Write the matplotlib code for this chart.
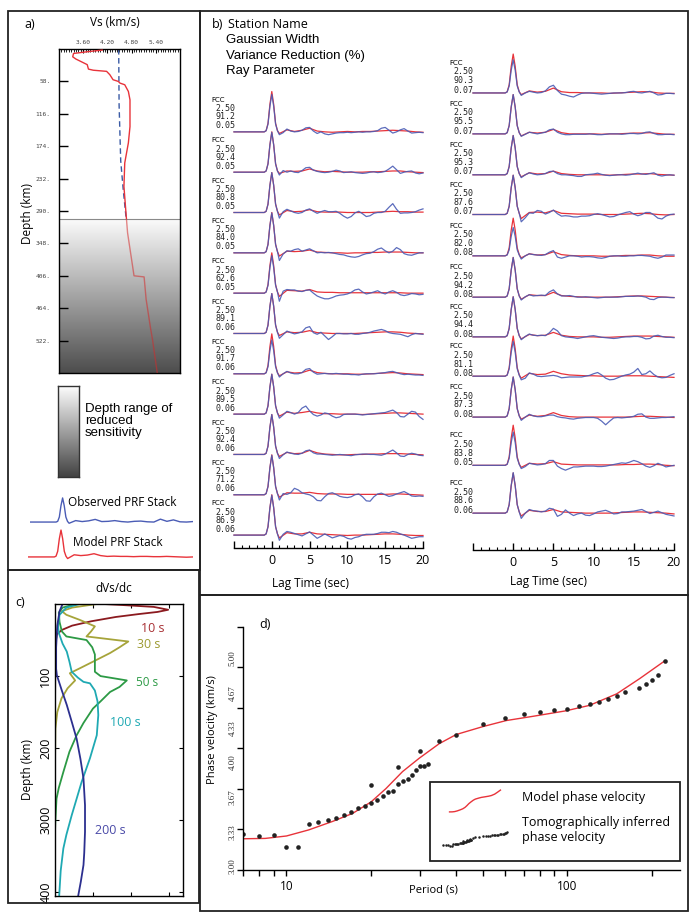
import numpy as np
import matplotlib.pyplot as plt
from matplotlib.patches import Rectangle
from matplotlib.colors import LinearSegmentedColormap
from matplotlib.ticker import MultipleLocator, NullFormatter, LogLocator, FixedLocator

plt.rcParams['font.family'] = ['Open Sans', 'DejaVu Sans']

# ---------------- panel a: Vs profile ----------------
depth_model = [2, 5, 8, 14, 18, 28, 36, 38, 40, 46, 55, 58, 61, 64, 76, 91, 139, 168, 204,
               246, 293, 329, 377, 406, 408, 448, 500, 521, 582]
vs_model = [4.07, 3.69, 3.36, 3.34, 3.42, 3.70, 3.73, 3.85, 4.18, 4.26, 4.34, 4.47, 4.51, 4.63,
            4.72, 4.76, 4.76, 4.72, 4.63, 4.61, 4.66, 4.70, 4.80, 4.86, 5.11, 5.16, 5.27, 5.32, 5.44]
depth_ref = [0, 100, 200, 250, 300]
vs_ref = [4.48, 4.49, 4.53, 4.59, 4.66]
sens_depth = 305
depth_ticks = [58, 116, 174, 232, 290, 348, 406, 464, 522]
vs_ticks = [3.6, 4.2, 4.8, 5.4]

# stacked PRFs for the legend (tail sampled at 1 s, lags 1..20)
obs_stack_tail = [-0.05, 0.06, 0.02, 0.05, 0.11, 0.02, 0.03, 0.06, 0.02, 0.00,
                  0.03, 0.04, 0.01, 0.00, 0.12, 0.03, 0.09, 0.01, 0.00, 0.02]
mod_stack_tail = [-0.06, 0.08, 0.05, 0.07, 0.12, 0.05, 0.02, 0.03, 0.02, 0.02,
                  0.01, 0.02, 0.02, 0.01, 0.01, 0.02, 0.01, 0.00, -0.01, 0.00]

# ---------------- panel b: receiver functions ----------------
pulse_lag = [-5.0, -1.0, -0.75, -0.5, -0.25, 0.0, 0.25, 0.5, 0.75]
pulse_shape = [0.0, 0.0, 0.03, 0.21, 0.68, 1.0, 0.68, 0.21, 0.03]
obs_lag = np.arange(1.0, 20.01, 0.5)
mod_lag = np.arange(1.0, 20.01, 1.0)

station = 'FCC'
gauss = '2.50'
vr_left = ['91.2', '92.4', '80.8', '84.0', '62.6', '89.1', '91.7', '89.5', '92.4', '71.2', '86.9']
rp_left = ['0.05'] * 5 + ['0.06'] * 6
vr_right = ['90.3', '95.5', '95.3', '87.6', '82.0', '94.2', '94.4', '81.1', '87.3', '83.8', '88.6']
rp_right = ['0.07'] * 4 + ['0.08'] * 5 + ['0.05', '0.06']

obs_peak_left = [0.93, 0.99, 0.99, 0.99, 0.93, 0.99, 0.84, 0.99, 0.99, 0.98, 0.99]
mod_peak_left = [1.00, 1.00, 0.99, 1.00, 1.00, 0.99, 0.99, 0.99, 0.99, 0.99, 1.00]
obs_peak_right = [0.82, 0.97, 0.97, 0.97, 0.70, 0.98, 0.99, 0.86, 0.99, 0.82, 1.00]
mod_peak_right = [0.96, 0.97, 0.97, 0.97, 0.93, 0.98, 0.99, 0.99, 0.99, 0.99, 0.99]

obs_tail_left = [
    [-0.07, -0.02, 0.07, 0.02, 0.00, 0.01, 0.04, 0.10, 0.11, 0.02, -0.04, 0.00, -0.05, -0.07, -0.05, -0.03, -0.02, -0.02, -0.01, -0.02,
     -0.01, 0.00, -0.01, 0.00, 0.00, 0.01, 0.03, 0.09, 0.11, 0.04, -0.03, 0.00, 0.05, 0.08, 0.02, -0.03, -0.02, -0.01, -0.02],
    [-0.07, 0.04, 0.00, 0.03, 0.00, -0.01, 0.04, 0.11, 0.12, 0.05, 0.02, 0.00, -0.01, 0.00, 0.02, 0.05, 0.03, -0.01, 0.00, 0.01,
     -0.01, -0.02, -0.03, -0.02, 0.00, 0.01, -0.01, 0.00, 0.02, 0.08, 0.15, 0.06, -0.03, 0.00, 0.02, 0.03, -0.02, -0.04, -0.02],
    [-0.14, 0.02, 0.08, 0.04, 0.00, -0.02, 0.00, 0.06, 0.09, 0.03, -0.02, 0.02, 0.05, 0.02, 0.02, 0.03, -0.02, -0.09, -0.14, -0.10,
     -0.01, 0.03, -0.03, -0.10, -0.08, -0.02, 0.00, 0.00, 0.03, 0.13, 0.22, 0.08, -0.02, -0.01, -0.01, 0.00, 0.02, 0.06, 0.09],
    [-0.19, -0.03, 0.05, 0.04, 0.08, 0.10, 0.04, 0.07, 0.10, 0.05, 0.00, 0.01, 0.00, 0.01, 0.00, -0.02, -0.04, -0.05, -0.08, -0.10,
     -0.11, -0.09, -0.05, -0.02, -0.01, 0.03, 0.09, 0.12, 0.05, 0.00, 0.04, 0.13, 0.08, -0.02, -0.05, -0.06, -0.03, 0.00, 0.00],
    [-0.20, 0.05, 0.09, 0.08, 0.08, 0.05, 0.04, 0.07, 0.08, 0.00, -0.07, -0.11, -0.14, -0.14, -0.11, -0.07, -0.05, -0.04, -0.02, 0.02,
     0.08, 0.10, 0.03, -0.02, 0.00, 0.03, 0.06, 0.01, -0.02, 0.03, 0.06, 0.02, -0.04, -0.06, -0.04, -0.01, -0.02, -0.04, -0.03],
    [-0.12, -0.03, 0.06, 0.02, -0.01, 0.01, 0.04, 0.14, 0.17, 0.02, -0.02, 0.03, -0.06, -0.15, -0.08, 0.00, 0.00, -0.01, -0.01, 0.00,
     -0.02, -0.02, 0.00, 0.01, 0.03, 0.06, 0.08, 0.10, 0.07, 0.02, 0.00, -0.01, -0.02, -0.05, -0.08, -0.03, 0.00, -0.01, -0.02],
    [-0.08, 0.00, 0.06, 0.02, 0.00, 0.00, 0.03, 0.11, 0.13, 0.04, -0.01, 0.00, 0.01, 0.00, 0.00, 0.01, 0.00, -0.01, -0.01, -0.02,
     -0.02, -0.03, -0.01, 0.00, 0.00, 0.00, 0.01, 0.02, 0.03, 0.05, 0.06, 0.03, 0.00, -0.02, -0.01, -0.02, -0.03, -0.03, -0.04],
    [-0.10, -0.02, 0.07, 0.04, 0.00, 0.04, 0.15, 0.20, 0.08, -0.01, -0.05, -0.02, 0.03, 0.01, -0.05, -0.09, -0.07, -0.01, 0.00, 0.00,
     0.00, -0.01, -0.02, -0.01, 0.00, 0.01, 0.02, 0.03, 0.04, 0.07, 0.10, 0.04, -0.06, -0.07, 0.00, 0.07, 0.05, -0.06, -0.13],
    [-0.10, -0.01, 0.06, 0.03, 0.01, 0.00, 0.03, 0.09, 0.11, 0.04, 0.01, 0.01, 0.00, -0.01, -0.02, -0.01, 0.00, -0.01, -0.02, -0.03,
     -0.01, 0.00, 0.01, 0.01, 0.00, 0.00, -0.01, -0.02, 0.01, 0.06, 0.11, 0.04, -0.04, -0.05, 0.00, 0.03, 0.01, -0.02, -0.03],
    [-0.13, 0.03, 0.01, 0.05, 0.16, 0.12, 0.05, 0.02, 0.00, -0.05, -0.14, -0.15, -0.05, 0.03, 0.05, 0.01, -0.04, -0.06, -0.07, -0.05,
     0.00, 0.02, -0.05, -0.15, -0.16, -0.05, 0.02, 0.04, 0.00, -0.04, -0.02, 0.02, 0.05, 0.08, 0.03, -0.03, -0.04, -0.03, -0.04],
    [-0.13, 0.02, 0.09, 0.07, 0.04, 0.01, -0.02, 0.03, 0.08, 0.00, -0.08, -0.03, 0.03, -0.02, -0.07, -0.04, -0.01, -0.03, -0.08, -0.10,
     -0.06, -0.04, 0.00, 0.02, 0.02, 0.02, 0.04, 0.07, 0.07, 0.06, 0.09, 0.07, 0.03, 0.00, -0.04, -0.08, -0.06, -0.04, -0.04],
]
mod_tail_left = [
    [-0.04, 0.05, 0.01, 0.04, 0.09, 0.02, 0.00, -0.01, 0.00, 0.01, 0.00, 0.01, 0.01, 0.02, 0.03, 0.04, 0.03, 0.02, 0.00, -0.01],
    [-0.03, 0.03, 0.02, 0.03, 0.08, 0.03, 0.01, 0.02, 0.01, 0.00, 0.00, 0.00, 0.01, 0.01, 0.02, 0.03, 0.03, 0.01, 0.00, -0.01],
    [-0.06, 0.05, 0.02, 0.03, 0.07, 0.02, 0.01, 0.01, 0.01, 0.00, 0.00, 0.00, 0.00, 0.01, 0.02, 0.03, 0.02, 0.02, 0.01, 0.01],
    [-0.08, 0.04, 0.03, 0.04, 0.07, 0.02, 0.01, 0.00, 0.00, -0.01, 0.00, 0.00, 0.01, 0.01, 0.02, 0.02, 0.02, 0.01, 0.00, 0.00],
    [-0.08, 0.07, 0.06, 0.05, 0.09, 0.03, 0.02, 0.02, 0.01, 0.01, 0.01, 0.01, 0.01, 0.01, 0.01, 0.01, 0.01, 0.00, 0.00, 0.00],
    [-0.05, 0.04, 0.02, 0.03, 0.07, 0.02, 0.01, 0.00, 0.00, 0.00, 0.00, 0.01, 0.02, 0.03, 0.04, 0.04, 0.03, 0.01, 0.00, -0.01],
    [-0.05, 0.05, 0.02, 0.03, 0.09, 0.03, 0.01, 0.00, 0.00, 0.00, -0.01, -0.01, 0.00, 0.01, 0.02, 0.03, 0.02, 0.00, -0.01, -0.02],
    [-0.05, 0.05, 0.02, 0.04, 0.07, 0.03, 0.01, 0.01, 0.00, 0.00, 0.00, -0.01, 0.00, 0.01, 0.02, 0.03, 0.03, 0.02, 0.01, 0.00],
    [-0.05, 0.05, 0.02, 0.03, 0.10, 0.04, 0.01, 0.00, -0.01, -0.01, 0.00, 0.00, 0.01, 0.01, 0.02, 0.02, 0.02, 0.01, 0.00, -0.01],
    [-0.06, 0.05, 0.04, 0.04, 0.06, 0.03, 0.02, 0.02, 0.02, 0.01, 0.01, 0.01, 0.01, 0.01, 0.01, 0.02, 0.02, 0.01, 0.00, -0.01],
    [-0.07, 0.06, 0.03, 0.03, 0.07, 0.03, 0.02, 0.01, 0.00, -0.01, 0.00, 0.00, 0.01, 0.02, 0.03, 0.03, 0.02, 0.00, -0.01, -0.01],
]
obs_tail_right = [
    [-0.06, 0.00, 0.04, 0.02, 0.00, 0.01, 0.05, 0.15, 0.19, 0.06, -0.03, -0.05, -0.08, -0.10, -0.05, -0.01, 0.00, 0.00, -0.01, -0.02,
     -0.03, -0.02, -0.01, 0.00, 0.00, 0.00, 0.01, 0.03, 0.04, 0.01, 0.00, 0.02, 0.04, 0.00, -0.05, -0.04, -0.01, -0.01, -0.02],
    [-0.06, -0.01, 0.04, 0.02, 0.00, 0.02, 0.04, 0.10, 0.12, 0.04, 0.00, -0.02, -0.02, -0.01, -0.01, -0.01, -0.01, 0.00, -0.01, -0.02,
     -0.02, -0.01, 0.00, 0.00, 0.00, -0.01, 0.00, 0.01, 0.01, 0.00, 0.01, 0.04, 0.05, 0.01, -0.02, -0.02, -0.01, -0.01, -0.02],
    [-0.07, 0.00, 0.05, 0.02, 0.00, 0.01, 0.03, 0.08, 0.09, 0.03, 0.00, 0.00, -0.01, -0.02, -0.04, -0.04, 0.00, 0.01, 0.02, 0.04,
     0.01, -0.01, -0.02, -0.01, 0.00, 0.00, -0.01, 0.00, 0.02, 0.04, 0.02, 0.01, 0.03, 0.05, -0.01, -0.03, -0.01, 0.00, -0.01],
    [-0.18, -0.08, 0.04, 0.03, 0.10, 0.08, 0.01, 0.05, 0.11, 0.02, -0.04, -0.03, -0.04, -0.06, -0.06, -0.04, -0.04, -0.03, 0.00, 0.02,
     0.00, -0.03, -0.06, -0.05, -0.01, 0.02, 0.05, 0.07, 0.01, -0.03, 0.00, 0.05, 0.05, -0.01, -0.09, -0.11, -0.04, 0.00, 0.01],
    [-0.08, 0.00, 0.05, 0.03, 0.02, 0.01, 0.03, 0.09, 0.13, -0.03, -0.06, -0.03, 0.00, 0.00, -0.01, -0.03, -0.02, -0.02, -0.03, -0.05,
     -0.06, -0.04, -0.01, 0.00, 0.00, -0.01, -0.01, 0.00, 0.00, 0.01, 0.01, 0.00, -0.01, -0.04, -0.06, -0.03, 0.02, 0.02, 0.02],
    [-0.07, 0.01, 0.06, 0.03, 0.04, 0.05, 0.04, 0.13, 0.18, 0.08, 0.03, 0.03, 0.04, 0.02, 0.00, 0.00, 0.01, 0.00, -0.01, -0.02,
     -0.01, 0.00, 0.00, 0.00, 0.00, 0.01, 0.02, 0.02, 0.02, 0.03, 0.02, 0.00, -0.05, -0.06, -0.01, 0.00, 0.00, -0.01, -0.01],
    [-0.07, 0.01, 0.07, 0.04, 0.03, 0.04, 0.03, 0.10, 0.21, 0.15, 0.03, 0.00, -0.01, -0.02, -0.04, -0.02, 0.00, 0.02, 0.03, 0.01,
     -0.01, -0.02, -0.03, -0.04, -0.03, -0.01, 0.00, 0.00, 0.01, 0.01, -0.01, -0.05, -0.04, 0.02, 0.04, 0.01, -0.01, -0.01, -0.02],
    [-0.09, -0.05, 0.08, 0.05, 0.00, -0.01, 0.00, 0.01, 0.02, 0.00, -0.04, -0.03, -0.02, -0.02, -0.02, -0.02, 0.00, 0.02, 0.06, 0.09,
     0.03, -0.05, -0.09, -0.08, -0.04, 0.00, 0.03, 0.05, 0.10, 0.19, 0.04, 0.06, 0.13, 0.04, -0.02, -0.04, -0.03, 0.02, 0.06],
    [-0.08, 0.00, 0.07, 0.03, 0.01, 0.01, 0.03, 0.05, 0.05, 0.01, -0.01, -0.02, -0.04, -0.05, -0.03, -0.02, -0.01, -0.01, -0.01, -0.03,
     -0.10, -0.19, -0.10, -0.02, -0.01, -0.02, -0.01, 0.00, 0.02, 0.07, 0.08, 0.00, -0.03, -0.03, -0.02, -0.01, -0.01, 0.00, 0.01],
    [-0.08, -0.03, 0.05, 0.03, 0.01, 0.02, 0.04, 0.12, 0.12, -0.02, -0.08, -0.12, -0.08, -0.04, -0.04, -0.03, -0.02, -0.02, -0.02, -0.03,
     -0.03, -0.02, 0.00, 0.02, 0.04, 0.06, 0.05, 0.08, 0.12, 0.09, 0.04, -0.02, -0.05, -0.01, 0.05, 0.01, -0.04, -0.02, 0.00],
    [-0.13, 0.00, 0.09, 0.06, 0.05, 0.03, 0.05, 0.12, 0.10, -0.08, -0.03, 0.08, 0.00, -0.06, -0.02, 0.00, -0.05, -0.06, -0.02, 0.03,
     0.05, 0.07, 0.03, -0.02, -0.01, 0.03, 0.03, 0.04, 0.05, 0.07, 0.09, 0.04, -0.01, 0.02, 0.05, 0.01, -0.03, -0.05, -0.07],
]
mod_tail_right = [
    [-0.04, 0.05, 0.02, 0.04, 0.12, 0.03, 0.01, 0.01, 0.00, 0.00, 0.00, -0.01, 0.00, 0.01, 0.02, 0.03, 0.03, 0.00, -0.01, -0.01],
    [-0.05, 0.04, 0.02, 0.04, 0.11, 0.03, 0.00, 0.00, 0.00, 0.00, -0.01, 0.00, 0.00, 0.01, 0.02, 0.02, 0.03, 0.01, -0.01, -0.01],
    [-0.05, 0.05, 0.02, 0.03, 0.09, 0.03, 0.01, 0.00, 0.00, 0.00, 0.00, -0.01, 0.00, 0.01, 0.02, 0.02, 0.03, 0.01, 0.00, -0.01],
    [-0.10, 0.05, 0.06, 0.04, 0.10, 0.03, 0.02, 0.01, 0.01, 0.01, 0.00, 0.00, 0.00, 0.01, 0.02, 0.03, 0.02, 0.00, -0.01, 0.00],
    [-0.05, 0.05, 0.02, 0.03, 0.10, 0.03, 0.01, 0.00, 0.00, 0.00, -0.01, -0.01, 0.00, 0.01, 0.01, 0.02, 0.02, 0.00, -0.01, -0.01],
    [-0.05, 0.06, 0.04, 0.04, 0.12, 0.04, 0.02, 0.01, 0.00, 0.00, 0.00, 0.00, 0.01, 0.02, 0.03, 0.03, 0.02, 0.01, 0.00, -0.01],
    [-0.05, 0.06, 0.03, 0.04, 0.11, 0.04, 0.01, 0.00, 0.00, 0.00, -0.01, -0.01, 0.00, 0.01, 0.02, 0.02, 0.02, 0.01, 0.00, -0.01],
    [-0.05, 0.07, 0.04, 0.05, 0.12, 0.06, 0.03, 0.02, 0.01, 0.01, 0.00, 0.00, 0.00, 0.01, 0.01, 0.01, 0.00, -0.01, -0.02, -0.03],
    [-0.05, 0.05, 0.02, 0.04, 0.11, 0.04, 0.01, 0.00, 0.00, 0.00, 0.00, 0.00, 0.00, 0.00, 0.01, 0.02, 0.02, 0.01, 0.00, -0.01],
    [-0.05, 0.05, 0.03, 0.04, 0.09, 0.03, 0.02, 0.01, 0.01, 0.01, 0.01, 0.01, 0.01, 0.02, 0.02, 0.03, 0.03, 0.02, 0.00, -0.01],
    [-0.07, 0.07, 0.04, 0.04, 0.09, 0.03, 0.02, 0.01, 0.00, 0.00, 0.00, 0.00, 0.01, 0.02, 0.03, 0.03, 0.02, 0.01, 0.00, -0.02],
]
lag_ticks = [-5, 0, 5, 10, 15, 20]
lag_labels = ['', '0', '5', '10', '15', '20']

# ---------------- panel c: sensitivity kernels ----------------
k10_depth = [0, 1.5, 4, 8, 11, 14, 18, 24, 30, 36, 42, 55, 150]
k10_val = [1.28, 1.8, 2.6, 2.98, 2.7, 2.2, 1.6, 0.95, 0.45, 0.18, 0.05, 0.01, 0.0]
k30_depth = [0, 5, 10, 15, 22, 31, 38, 45, 52, 60, 68, 80, 89, 96, 106, 117, 131, 150, 173, 224, 405]
k30_val = [1.1, 0.45, 0.18, 0.3, 0.65, 1.05, 0.95, 0.83, 1.93, 1.7, 1.45, 1.0, 0.66, 0.39, 0.53, 0.33,
           0.17, 0.06, 0.01, 0.0, 0.0]
k50_depth = [0, 5, 12, 25, 38, 45, 50, 60, 70, 94, 100, 106, 115, 122, 135, 145, 165, 182, 205, 233,
             255, 270, 300, 316, 405]
k50_val = [0.55, 0.2, 0.1, 0.12, 0.18, 0.3, 0.83, 0.98, 1.05, 1.05, 1.2, 1.89, 1.7, 1.45, 1.2, 1.0,
           0.75, 0.57, 0.38, 0.22, 0.1, 0.04, 0.01, 0.0, 0.0]
k100_depth = [0, 5, 15, 30, 40, 55, 66, 80, 94, 102, 108, 110, 120, 135, 154, 182, 214, 247, 270, 293,
              320, 339, 370, 405]
k100_val = [0.65, 0.3, 0.12, 0.08, 0.1, 0.2, 0.31, 0.38, 0.44, 0.6, 0.75, 0.92, 1.05, 1.12, 1.14, 1.1,
            0.92, 0.7, 0.57, 0.44, 0.3, 0.22, 0.15, 0.11]
k200_depth = [0, 10, 30, 60, 90, 99, 120, 140, 165, 187, 215, 242, 279, 316, 345, 362, 385, 405]
k200_val = [0.2, 0.12, 0.06, 0.03, 0.03, 0.05, 0.18, 0.31, 0.45, 0.57, 0.67, 0.75, 0.79, 0.79, 0.77,
            0.75, 0.68, 0.61]
kernel_depth_ticks = [100, 200, 300, 400]
kernel_depth_labels = ['100', '200', '3000', '400']

# ---------------- panel d: dispersion ----------------
obs_period = [7.0, 8.0, 9.0, 10.0, 11.0, 12.0, 13.0, 14.0, 15.0, 16.0,
              17.0, 18.0, 19.0, 20.0, 20.0, 21.0, 22.0, 23.0, 24.0, 25.0,
              25.0, 26.0, 27.0, 28.0, 29.0, 30.0, 30.0, 31.0, 32.0, 35.0,
              40.0, 50.0, 60.0, 70.0, 80.0, 90.0, 100.0, 110.0, 120.0, 130.0,
              140.0, 150.0, 160.0, 180.0, 190.0, 200.0, 210.0, 222.0]
obs_vel = [3.296, 3.28, 3.288, 3.186, 3.19, 3.375, 3.394, 3.41, 3.43, 3.455,
           3.48, 3.51, 3.53, 3.553, 3.70, 3.575, 3.61, 3.644, 3.652, 3.85,
           3.71, 3.734, 3.75, 3.786, 3.82, 3.978, 3.855, 3.857, 3.871, 4.065,
           4.115, 4.205, 4.25, 4.28, 4.30, 4.315, 4.325, 4.35, 4.367, 4.383,
           4.41, 4.43, 4.463, 4.50, 4.53, 4.567, 4.608, 4.717]
model_period = [7.0, 8.4, 10.0, 12.0, 14.6, 17.2, 20.0, 22.6, 25.9, 29.7, 35.0, 40.2, 50.0, 60.6,
                75.5, 98.8, 120.0, 150.0, 181.0, 222.0]
model_vel = [3.257, 3.26, 3.28, 3.33, 3.40, 3.466, 3.56, 3.67, 3.81, 3.92, 4.04, 4.115, 4.18, 4.23,
             4.265, 4.31, 4.355, 4.45, 4.575, 4.72]
vel_ticks = [3.0, 10 / 3, 11 / 3, 4.0, 13 / 3, 14 / 3, 5.0]
vel_labels = ['3.00', '3.33', '3.67', '4.00', '4.33', '4.67', '5.00']

# ---------------- figure ----------------
W, H = 699, 915
fig = plt.figure(figsize=(W / 100, H / 100), dpi=100)
RED = '#e8333a'
BLUE = '#4a5cb5'
MONO = 'DejaVu Sans Mono'
ARIAL = 'Liberation Sans'


def px_axes(x0, y0, x1, y1):
    return fig.add_axes([x0 / W, 1 - y1 / H, (x1 - x0) / W, (y1 - y0) / H])


def px_text(x, y, s, **kw):
    kw.setdefault('va', 'center')
    return fig.text(x / W, 1 - y / H, s, **kw)


def frame(x0, y0, x1, y1):
    fig.add_artist(Rectangle((x0 / W, 1 - y1 / H), (x1 - x0) / W, (y1 - y0) / H,
                             transform=fig.transFigure, fill=False, lw=1.3, ec='#222'))


frame(8, 11, 200, 570)
frame(200, 11, 688, 595)
frame(8, 570, 199, 903)
frame(200, 595, 688, 911)

# ---- panel a ----
ax = px_axes(59, 49, 180, 373)
shade = np.linspace(0, 1, 256).reshape(-1, 1)
cm_a = LinearSegmentedColormap.from_list('shade_a', ['#fbfbfb', '#4d4d4d'])
ax.imshow(shade, extent=[3.0, 6.0, 580, sens_depth], aspect='auto', cmap=cm_a, zorder=0)
ax.axhline(sens_depth, color='#8a8a8a', lw=0.8, zorder=1)
ax.plot(vs_ref, depth_ref, color='#3b5ba5', lw=1.0, ls=(0, (4, 2.5)), zorder=2)
l1, = ax.plot(vs_model, depth_model, color=RED, lw=1.0, zorder=3)
l1.set_clip_path(Rectangle((3.0, 0), 3.0, sens_depth, transform=ax.transData))
l2, = ax.plot(vs_model, depth_model, color='#d42a2a', lw=1.0, alpha=0.55, zorder=3)
l2.set_clip_path(Rectangle((3.0, sens_depth), 3.0, 580 - sens_depth, transform=ax.transData))
ax.set_xlim(3.0, 6.0)
ax.set_ylim(580, 0)
ax.set_yticks(depth_ticks)
ax.set_yticklabels([f'{d}.' for d in depth_ticks], fontsize=4.5, family=MONO, color='#444')
ax.tick_params(axis='y', direction='in', length=6.5, width=1, pad=6)
ax.xaxis.set_ticks_position('top')
ax.set_xticks(vs_ticks)
ax.set_xticklabels(['3.60', '4.20', '4.80', '5.40'], fontsize=4.5, family=MONO, color='#444')
ax.xaxis.set_minor_locator(MultipleLocator(0.06))
ax.tick_params(axis='x', which='major', direction='in', length=3, width=0.8, pad=3)
ax.tick_params(axis='x', which='minor', direction='in', length=2, width=0.6)
for s in ax.spines.values():
    s.set_linewidth(1.0)

px_text(30, 25, 'a)', fontsize=9, ha='center')
px_text(115, 23, 'Vs (km/s)', fontsize=8.5, ha='center')
px_text(28, 213, 'Depth (km)', fontsize=8.5, ha='center', rotation=90)

axl = px_axes(58, 386, 79, 477)
cm_l = LinearSegmentedColormap.from_list('shade_l', ['#ffffff', '#424242'])
axl.imshow(shade, aspect='auto', cmap=cm_l)
axl.set_xticks([])
axl.set_yticks([])
for s in axl.spines.values():
    s.set_color('#333')
    s.set_linewidth(1.0)
px_text(85, 421, 'Depth range of\nreduced\nsensitivity', fontsize=9.5, family=ARIAL,
        ha='left', linespacing=1.0)

axo = px_axes(30, 490, 193, 530)
axo.plot(np.concatenate([pulse_lag, mod_lag]), np.concatenate([pulse_shape, obs_stack_tail]),
         color=BLUE, lw=1.0)
axo.set_xlim(-5, 20)
axo.set_ylim(-0.33, 1.33)
axo.axis('off')
axm = px_axes(28, 522, 193, 565)
axm.plot(np.concatenate([pulse_lag, mod_lag]), np.concatenate([pulse_shape, mod_stack_tail]),
         color=RED, lw=1.0)
axm.set_xlim(-5, 20)
axm.set_ylim(-0.3, 1.3)
axm.axis('off')
px_text(68, 503, 'Observed PRF Stack', fontsize=8.5, ha='left')
px_text(73, 543, 'Model PRF Stack', fontsize=8.5, ha='left')

# ---- panel b ----
px_text(212, 25, 'b)', fontsize=9, ha='left')
px_text(228, 25, 'Station Name', fontsize=9, ha='left')
px_text(226, 40, 'Gaussian Width', fontsize=9.5, family=ARIAL, ha='left')
px_text(226, 56, 'Variance Reduction (%)', fontsize=9.5, family=ARIAL, ha='left')
px_text(226, 71, 'Ray Parameter', fontsize=9.5, family=ARIAL, ha='left')


def draw_column(box, offsets, ylim, obs_tails, mod_tails, obs_peaks, mod_peaks, vr, rp,
                text_dy, fcc_px, num_px, xlabel_px):
    axb = px_axes(*box)
    span = box[2] - box[0]
    fcc_lag = -5 + (fcc_px - box[0]) / span * 25
    num_lag = -5 + (num_px - box[0]) / span * 25
    for i in range(len(offsets)):
        base = -offsets[i]
        ym = np.concatenate([mod_peaks[i] * np.array(pulse_shape), mod_tails[i]])
        xm = np.concatenate([pulse_lag, mod_lag[:len(mod_tails[i])]])
        yo = np.concatenate([obs_peaks[i] * np.array(pulse_shape), obs_tails[i]])
        xo = np.concatenate([pulse_lag, obs_lag[:len(obs_tails[i])]])
        axb.plot(xm, base + ym, color=RED, lw=0.9, clip_on=False)
        axb.plot(xo, base + yo, color=BLUE, lw=0.9, alpha=0.9, clip_on=False)
        axb.text(fcc_lag, base + text_dy[0], station, fontsize=5, va='center', ha='left',
                 family='DejaVu Sans')
        for s, dy in zip([gauss, vr[i], rp[i]], text_dy[1:]):
            axb.text(num_lag, base + dy, s, fontsize=6, va='center', ha='left', family=MONO,
                     color='#222')
    axb.set_xlim(-5, 20)
    axb.set_ylim(*ylim)
    for s in ['top', 'right', 'left']:
        axb.spines[s].set_visible(False)
    axb.spines['bottom'].set_linewidth(1.0)
    axb.set_yticks([])
    axb.set_xticks(lag_ticks)
    axb.set_xticklabels(lag_labels)
    axb.xaxis.set_minor_locator(MultipleLocator(1))
    axb.tick_params(axis='x', which='major', direction='in', length=5, width=1, labelsize=9, pad=4)
    axb.tick_params(axis='x', which='minor', direction='in', length=2.5, width=0.8)
    axb.patch.set_alpha(0)
    px_text(xlabel_px[0], xlabel_px[1], 'Lag Time (sec)', fontsize=8.5, ha='center')


left_offsets = list(range(11))
right_offsets = [0, 1.01, 2.02, 3.0, 4.02, 5.04, 6.02, 6.99, 8.0, 9.19, 10.37]
draw_column((234, 50, 423, 548), left_offsets, (-10.32, 2.03), obs_tail_left, mod_tail_left,
            obs_peak_left, mod_peak_left, vr_left, rp_left, [0.79, 0.57, 0.37, 0.15],
            211, 215, (310, 583))
draw_column((473, 50, 674, 550), right_offsets, (-11.28, 1.06), obs_tail_right, mod_tail_right,
            obs_peak_right, mod_peak_right, vr_right, rp_right, [0.74, 0.52, 0.30, 0.07],
            449, 453, (548, 582))

# ---- panel c ----
axc = px_axes(55, 604, 183, 896)
kernels = [(k10_val, k10_depth, '#8b1a1f'), (k30_val, k30_depth, '#a6a43a'),
           (k50_val, k50_depth, '#2c9a45'), (k100_val, k100_depth, '#1fa9b3'),
           (k200_val, k200_depth, '#2c2f8f')]
for kv, kd, c in kernels:
    axc.plot(kv, kd, color=c, lw=1.3)
axc.set_xlim(0, 3.37)
axc.set_ylim(405, 0)
axc.set_yticks(kernel_depth_ticks)
axc.set_yticklabels(kernel_depth_labels, rotation=90, va='center', fontsize=9)
axc.set_xticks([1, 2, 3])
axc.xaxis.set_major_formatter(NullFormatter())
axc.tick_params(direction='in', length=3, width=0.8, top=True, right=True, pad=2)
for s in axc.spines.values():
    s.set_linewidth(1.0)
px_text(20, 603, 'c)', fontsize=9, ha='center')
px_text(114, 588, 'dVs/dc', fontsize=8.5, ha='center')
px_text(27, 770, 'Depth (km)', fontsize=8.5, ha='center', rotation=90)
px_text(153, 628, '10 s', fontsize=9, ha='center', color='#a83034')
px_text(149, 645, '30 s', fontsize=9, ha='center', color='#9c9a30')
px_text(147, 682, '50 s', fontsize=8.5, ha='center', color='#2c9a45')
px_text(125, 722, '100 s', fontsize=9, ha='center', color='#1fa9b3')
px_text(110, 830, '200 s', fontsize=9, ha='center', color='#4a4aa8')

# ---- panel d ----
axd = px_axes(243, 627, 680, 870)
axd.set_xscale('log')
axd.plot(model_period, model_vel, color=RED, lw=1.0)
axd.plot(obs_period, obs_vel, 'o', color='#222', ms=3.3, mec='none')
axd.set_xlim(7, 252)
axd.set_ylim(3.0, 5.0)
axd.spines['top'].set_visible(False)
axd.spines['right'].set_visible(False)
for s in ['left', 'bottom']:
    axd.spines[s].set_linewidth(1.0)
axd.set_yticks(vel_ticks)
axd.set_yticklabels([])
for t, lab in zip(vel_ticks, vel_labels):
    axd.text(-0.023, 3.03 + (t - 3.0) * 0.855, lab, transform=axd.get_yaxis_transform(),
             rotation=90, fontsize=6.5, family='Liberation Serif', ha='center', va='center',
             color='#333')
axd.xaxis.set_major_locator(FixedLocator([10, 100]))
axd.set_xticklabels(['10', '100'])
axd.xaxis.set_minor_locator(LogLocator(base=10, subs=np.arange(2, 10)))
axd.xaxis.set_minor_formatter(NullFormatter())
axd.tick_params(axis='both', which='both', direction='out', length=4, width=1, labelsize=8.5, pad=3)
px_text(265, 625, 'd)', fontsize=9, ha='center')
px_text(433, 890, 'Period (s)', fontsize=8, ha='center')
px_text(212, 730, 'Phase velocity (km/s)', fontsize=8, ha='center', rotation=90)

frame(430, 782, 680, 861)
axr = px_axes(447, 789, 503, 813)
axr.set_xscale('log')
axr.plot(model_period, model_vel, color=RED, lw=1.0)
axr.axis('off')
axk = px_axes(440, 831, 510, 847)
axk.set_xscale('log')
axk.plot(obs_period, obs_vel, '.', color='#222', ms=1.6)
axk.axis('off')
px_text(522, 797, 'Model phase velocity', fontsize=9, ha='left')
px_text(522, 830, 'Tomographically inferred\nphase velocity', fontsize=9, ha='left',
        linespacing=1.25)

fig.savefig('out.png', dpi=100)
